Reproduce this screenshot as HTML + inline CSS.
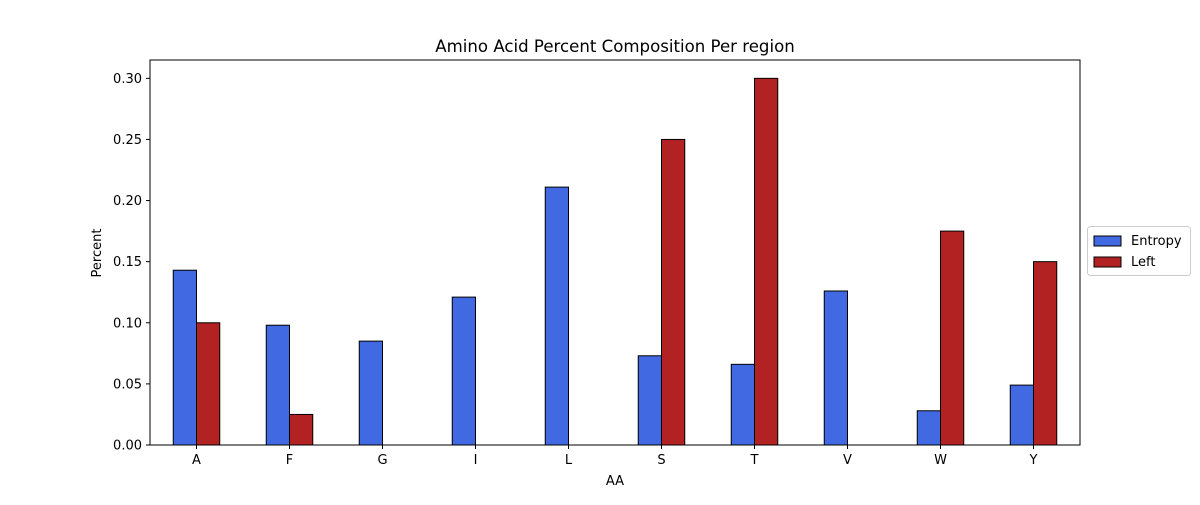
<!DOCTYPE html>
<html><head><meta charset="utf-8"><style>
body{margin:0;background:#fff;}
svg text{font-family:"DejaVu Sans","Liberation Sans",sans-serif;fill:#000;}
</style></head><body>
<svg id="chart" width="1200" height="500" xmlns="http://www.w3.org/2000/svg">
<rect width="1200" height="500" fill="#fff"/>
<text x="615" y="52" font-size="16.6" text-anchor="middle">Amino Acid Percent Composition Per region</text>
<text x="615" y="485" font-size="13" text-anchor="middle">AA</text>
<text transform="translate(101,253) rotate(-90)" font-size="13" text-anchor="middle">Percent</text>
<g id="bars"></g>
<g id="axes"></g>
<g>
<rect x="1087.5" y="226.5" width="103" height="49" fill="#fff" stroke="#ccc" rx="3"/>
<rect x="1094" y="236" width="27" height="10" fill="#4169e1" stroke="#000"/>
<text x="1131" y="245" font-size="13">Entropy</text>
<rect x="1094" y="257" width="27" height="10" fill="#b22222" stroke="#000"/>
<text x="1131" y="266" font-size="13">Left</text>
</g>
</svg>
<script>
const categories = ["A","F","G","I","L","S","T","V","W","Y"];
const entropyValues = [0.143,0.098,0.085,0.121,0.211,0.073,0.066,0.126,0.028,0.049];
const leftValues = [0.100,0.025,0,0,0,0.250,0.300,0,0.175,0.150];
const yTicks = [0,0.05,0.10,0.15,0.20,0.25,0.30];
const yTickLabels = ["0.00","0.05","0.10","0.15","0.20","0.25","0.30"];

const L=150,R=1080,T=60,B=445;
const ymax=0.315;
function y(v){return B-(v/ymax)*(B-T);}
function xc(i){return L+(i+0.5)*(R-L)/categories.length;}
const bw=(R-L)/categories.length*0.25;
const NS="http://www.w3.org/2000/svg";
const bars=document.getElementById('bars'), axes=document.getElementById('axes');
function mk(tag,attrs,parent){const e=document.createElementNS(NS,tag);for(const k in attrs)e.setAttribute(k,attrs[k]);parent.appendChild(e);return e;}
const series=[[entropyValues,"#4169e1","entropy",-1],[leftValues,"#b22222","left",0]];
series.forEach(([vals,col,nm,off])=>{
  vals.forEach((v,i)=>{
    const r=mk('rect',{x:xc(i)+off*bw,y:y(v),width:bw,height:B-y(v),fill:col,stroke:'#000','stroke-width':1},bars);
    
    
  });
});
const frame=mk('rect',{x:L,y:T,width:R-L,height:B-T,fill:'none',stroke:'#000','stroke-width':1},axes);


yTicks.forEach((t,i)=>{
  mk('line',{x1:L-4,x2:L,y1:y(t),y2:y(t),stroke:'#000'},axes);
  const tx=mk('text',{x:L-8,y:y(t)+4.5,'font-size':13,'text-anchor':'end'},axes);
  tx.textContent=yTickLabels[i];
  
  
});
categories.forEach((c,i)=>{
  mk('line',{x1:xc(i),x2:xc(i),y1:B,y2:B+4,stroke:'#000'},axes);
  const tx=mk('text',{x:xc(i),y:B+19,'font-size':13,'text-anchor':'middle'},axes);
  tx.textContent=c;
  
  
});
</script>
</body></html>
